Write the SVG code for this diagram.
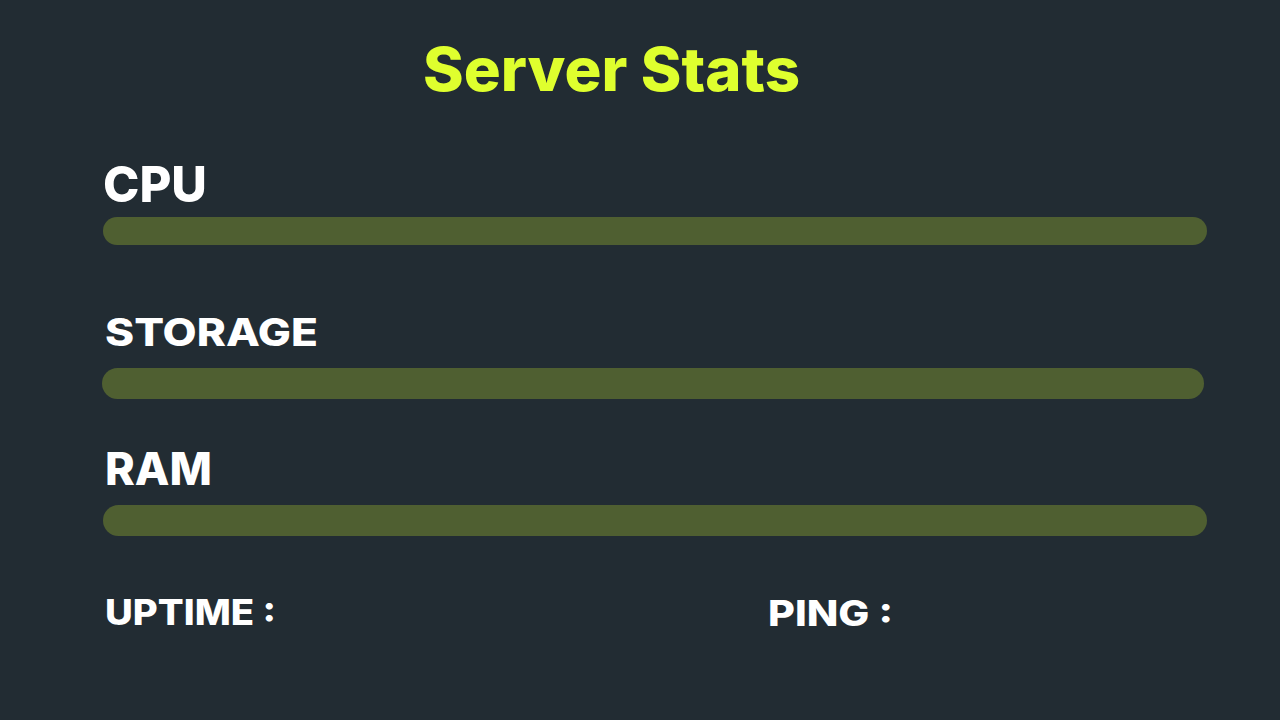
<svg xmlns="http://www.w3.org/2000/svg" width="1280" height="720" viewBox="0 0 1280 720">
  <style>
    .lbl { font-family: Inter, "Open Sans", "Liberation Sans", sans-serif; font-weight: 800; fill: #ffffff; }
    .title { font-family: Inter, "Open Sans", "Liberation Sans", sans-serif; font-weight: 800; fill: #dfff2e; }
    .bar { fill: #4f5f31; }
  </style>
  <rect x="0" y="0" width="1280" height="720" fill="#222c33"/>
  <g id="title">
    <text class="title" x="423" y="91" font-size="60" textLength="377" lengthAdjust="spacingAndGlyphs">Server Stats</text>
  </g>
  <g id="cpu">
    <text class="lbl" x="103" y="202" font-size="50" textLength="104" lengthAdjust="spacingAndGlyphs">CPU</text>
    <rect class="bar" x="103" y="217" width="1104" height="28" rx="14"/>
  </g>
  <g id="storage">
    <text class="lbl" x="105" y="346" font-size="38" textLength="213" lengthAdjust="spacingAndGlyphs">STORAGE</text>
    <rect class="bar" x="102" y="368" width="1102" height="31" rx="15.5"/>
  </g>
  <g id="ram">
    <text class="lbl" x="105" y="485" font-size="45" textLength="107" lengthAdjust="spacingAndGlyphs">RAM</text>
    <rect class="bar" x="103" y="505" width="1104" height="31" rx="15.5"/>
  </g>
  <g id="uptime">
    <text class="lbl" x="105" y="625" font-size="35" textLength="171" lengthAdjust="spacingAndGlyphs">UPTIME :</text>
  </g>
  <g id="ping">
    <text class="lbl" x="768" y="626" font-size="35" textLength="125" lengthAdjust="spacingAndGlyphs">PING :</text>
  </g>
  <g id="connectors"/>
</svg>
